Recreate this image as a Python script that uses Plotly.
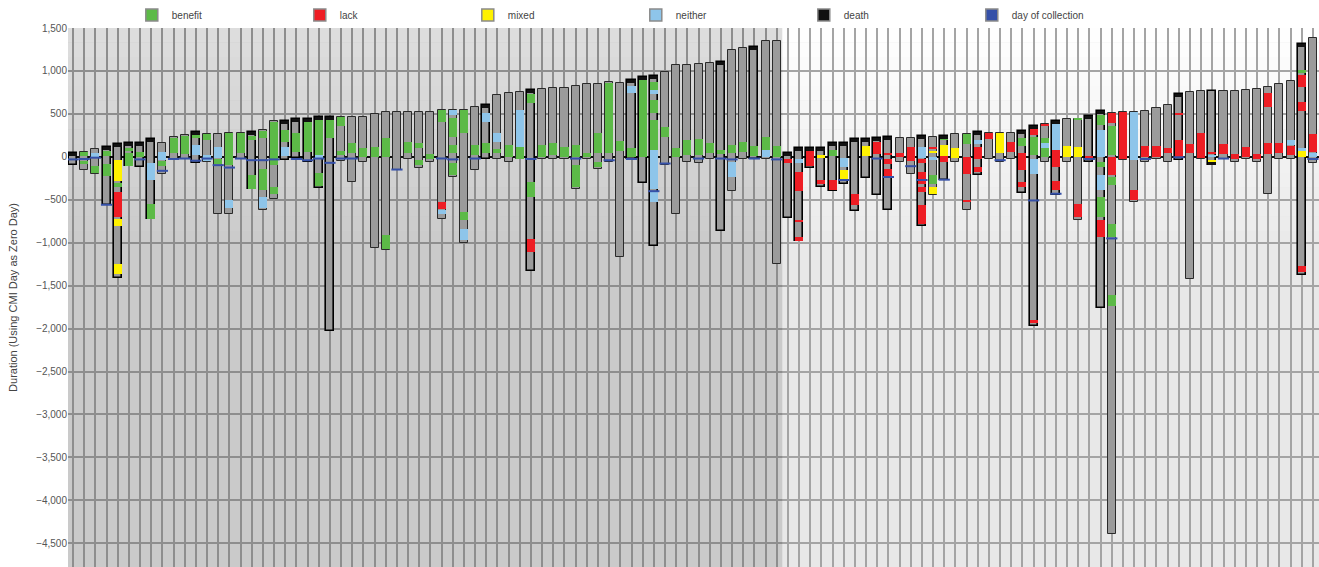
import plotly.graph_objects as go

# ---------------- data ----------------
bar_top = [47, 51, 86, 110, 150, 157, 160, 203, 160, 227, 258, 293, 266, 266, 273, 278,
           293, 312, 422, 422, 437, 441, 469, 469, 461, 461, 461, 500, 527, 527, 527, 527,
           527, 547, 547, 547, 578, 605, 723, 742, 750, 781, 793, 801, 801, 820, 851, 851,
           867, 859, 898, 930, 945, 984, 1074, 1074, 1086, 1094, 1101, 1242, 1269, 1281, 1347, 1347,
           39, 98, 105, 105, 156, 164, 203, 203, 215, 227, 215, 215, 246, 227, 246, 262,
           266, 285, 273, 273, 273, 301, 359, 383, 418, 441, 441, 480, 539, 516, 527, 527,
           539, 566, 605, 734, 750, 762, 762, 762, 769, 781, 793, 812, 848, 879, 1316, 1379]

bar_bottom = [-98, -156, -202, -565, -1415, -110, -113, -725, -202, -30, -28, -75, -59, -670, -660, -25,
              -372, -620, -487, -39, -12, -59, -360, -2027, -45, -292, -59, -1064, -1083, -156, -31, -130,
              -59, -721, -234, -1007, -156, -31, -31, -59, -31, -1333, -31, -31, -31, -371, -31, -137,
              -59, -1167, -31, -302, -1034, -100, -671, -59, -70, -31, -867, -398, -31, -31, -31, -1250,
              -715, -977, -129, -351, -398, -312, -625, -242, -449, -617, -59, -203, -801, -449, -266, -59,
              -617, -215, -31, -59, -20, -422, -1968, -59, -449, -59, -734, -59, -1762, -4386, -39, -527,
              -59, -20, -59, -39, -1423, -31, -100, -31, -59, -31, -59, -430, -20, -31, -1376, -70]

# (bar, start, end)
benefit = [(1, 12, 51), (1, -86, -50), (2, -187, -109), (3, 12, 70), (3, -226, -89), (4, -350, -300),
           (5, 70, 100), (5, -105, 40), (6, -7, 51), (7, -721, -545), (8, -103, -47), (9, 40, 225),
           (10, 31, 240), (11, 220, 250), (12, 200, 262), (13, -86, -31), (14, -97, 273), (15, 47, 278),
           (16, 195, 242), (16, -370, -214), (17, 215, 305), (17, -381, -136), (18, -97, 410),
           (18, -428, -351), (19, 176, 312), (20, 59, 273), (21, 59, 430), (22, 0, 449), (22, -343, -194),
           (23, 215, 449), (24, 359, 461), (24, 20, 70), (25, 39, 156), (26, 0, 98), (27, 0, 117),
           (28, 0, 215), (28, -1072, -916), (30, 39, 176), (31, 98, 156), (31, -97, -39), (32, -20, 31),
           (33, 410, 547), (34, 234, 449), (34, 39, 137), (34, -214, -77), (35, 273, 547), (35, -740, -643),
           (36, 20, 137), (37, 39, 156), (38, 39, 86), (39, 0, 137), (40, -20, 117), (41, 625, 734),
           (41, -468, -292), (42, 0, 137), (43, 20, 164), (44, 0, 117), (45, 0, 137), (45, -351, -98),
           (46, 0, 47), (47, 39, 273), (47, -117, -59), (48, 40, 858), (49, 70, 187), (50, 0, 98),
           (51, 0, 898), (52, 781, 867), (52, 508, 664), (52, 78, 430), (53, 234, 344), (54, 0, 98),
           (55, 20, 195), (56, 20, 203), (57, 39, 156), (58, 31, 78), (59, 39, 137), (60, 59, 176),
           (61, 8, 125), (62, 78, 227), (63, 0, 125), (68, 8, 78), (77, -312, -215), (78, 195, 234),
           (80, 148, 266), (85, 125, 215), (86, 20, 234), (87, 0, 215), (90, 430, 441), (92, 371, 488),
           (92, -117, -59), (92, -703, -469), (93, 20, 359), (93, -332, -234), (93, -937, -781),
           (93, -1734, -1606), (110, 977, 1016)]

lack = [(4, -700, -410), (33, -604, -526), (41, -1111, -954), (64, -70, -20), (65, -398, -176),
        (65, -762, -734), (65, -977, -937), (66, -109, 86), (67, -312, -273), (68, -390, -266),
        (70, -566, -430), (72, 31, 176), (73, 20, 47), (73, -78, -20), (73, -227, -137), (74, 0, 39),
        (75, -47, 117), (76, -70, -31), (76, -320, -176), (76, -410, -351), (76, -781, -566),
        (77, 86, 117), (78, -59, 8), (80, -195, 0), (80, -516, -500), (81, -20, 117), (81, -176, -117),
        (82, 203, 273), (84, 59, 176), (85, -156, 39), (85, -351, -293), (86, 254, 352),
        (86, -1930, -1902), (87, 360, 383), (88, -117, 78), (88, -390, -281), (90, -703, -555),
        (91, -10, 10), (92, -936, -734), (93, 391, 516), (93, -215, 0), (94, -31, 527), (95, -508, -383),
        (96, 0, 125), (97, 0, 125), (98, 47, 98), (99, 488, 508), (99, 0, 195), (100, 47, 148),
        (101, -8, 273), (102, 31, 59), (103, 31, 148), (104, -20, 31), (105, 0, 117), (106, -31, 31),
        (107, 578, 742), (107, 31, 156), (108, 39, 156), (109, 20, 125), (110, 812, 957),
        (110, 539, 633), (110, -1345, -1267), (111, 59, 266)]

mixed = [(4, -280, -39), (4, -810, -720), (4, -1370, -1250), (67, -12, 27), (69, -254, -148),
         (71, 8, 125), (77, 47, 70), (77, -430, -351), (78, 8, 137), (79, -8, 98), (83, 39, 273),
         (89, 0, 125), (90, 0, 117), (102, -86, -39), (110, 0, 70)]

neither = [(2, -19, 40), (7, -264, -70), (8, -39, 58), (11, 20, 137), (12, -47, 27), (13, -8, 117),
           (14, -592, -506), (17, -592, -468), (19, 8, 117), (22, -31, 20), (33, -662, -623),
           (34, 488, 547), (35, -974, -837), (37, 410, 508), (38, 176, 273), (40, 117, 547),
           (50, 742, 820), (52, 734, 781), (52, -380, 78), (52, -526, -409), (59, -234, -59),
           (62, 0, 78), (65, -70, -20), (69, -117, -12), (76, -8, 109), (77, -39, 0), (81, 148, 195),
           (86, -195, -20), (87, 98, 156), (88, 78, 391), (92, 0, 312), (92, -390, -215),
           (95, -39, 527), (102, 0, 20), (109, 137, 195), (110, 70, 100), (111, 0, 40)]

# (bar, day)
death = [(0, 47), (3, 110), (4, 150), (5, 157), (6, 160), (7, 203), (11, 293), (16, 293), (19, 422),
         (20, 437), (21, 441), (22, 469), (23, 469), (37, 605), (41, 781), (50, 898), (51, 930),
         (52, 945), (58, 1101), (61, 1281), (64, 39), (65, 98), (66, 105), (67, 105), (68, 156),
         (69, 164), (70, 203), (71, 203), (72, 215), (73, 227), (76, 246), (78, 246), (81, 285),
         (85, 301), (86, 359), (88, 418), (91, 480), (92, 539), (99, 734), (102, -65), (110, 1316)]

collection = [(0, -30), (1, -25), (2, -10), (3, -558), (6, -30), (8, -163), (9, -25), (10, -20),
              (11, -45), (12, -20), (13, -97), (14, -125), (15, -20), (16, -39), (17, -39), (18, -30),
              (20, -25), (21, -40), (22, -20), (23, -70), (24, -20), (25, -20), (29, -148), (33, -19),
              (34, -30), (36, -20), (41, -25), (45, -20), (48, -40), (50, -25), (52, -400), (53, -78),
              (56, -20), (58, -20), (59, -30), (61, -20), (63, -30), (69, -270), (72, -20), (73, -235),
              (75, -109), (76, -270), (78, -266), (83, -39), (86, -508), (88, -430), (91, -25),
              (93, -950), (96, -25), (99, -5), (103, -20), (111, -25)]

legend_labels = ["benefit", "lack", "mixed", "neither", "death", "day of collection"]
y_ticks = list(range(-4500, 1501, 500))
n_left = 64  # patients in the shaded (left) group

# ---------------- styles ----------------
C_GREEN = "#5cba47"
C_RED = "#ee1d24"
C_YELLOW = "#fff200"
C_LBLUE = "#8ec5ea"
C_BLACK = "#111111"
C_BLUE = "#3550a8"
C_GRAY = "#9b9b9b"
BW = 0.72
FONT = "Liberation Sans"

fig = go.Figure()

n = len(bar_top)
xs = list(range(n))
death_set = {b for b, _ in death}

# gray range bars
for is_death in (False, True):
    idx = [i for i in xs if (i in death_set) == is_death]
    fig.add_trace(go.Bar(
        x=idx, base=[bar_bottom[i] for i in idx],
        y=[bar_top[i] - bar_bottom[i] for i in idx],
        width=BW, showlegend=False, hoverinfo="skip",
        marker=dict(color=C_GRAY, line=dict(color="#000" if is_death else "#2a2a2a",
                                            width=1.6 if is_death else 1.0))))


def seg_trace(segs, color):
    return go.Bar(x=[s[0] for s in segs], base=[s[1] for s in segs],
                  y=[s[2] - s[1] for s in segs], width=BW, showlegend=False,
                  hoverinfo="skip", marker=dict(color=color, line=dict(width=0)))


for segs, col in ((benefit, C_GREEN), (lack, C_RED), (mixed, C_YELLOW), (neither, C_LBLUE)):
    fig.add_trace(seg_trace(segs, col))

# death caps
cap = 35
fig.add_trace(go.Bar(x=[d[0] for d in death], base=[d[1] - cap for d in death],
                     y=[cap] * len(death), width=BW, showlegend=False, hoverinfo="skip",
                     marker=dict(color=C_BLACK, line=dict(width=0))))

# day of collection markers
fig.add_trace(go.Scatter(x=[c[0] for c in collection], y=[c[1] for c in collection],
                         mode="markers", showlegend=False, hoverinfo="skip",
                         marker=dict(symbol="line-ew", size=8, line=dict(color=C_BLUE, width=2))))

# legend-only entries
for lab, col in zip(legend_labels, (C_GREEN, C_RED, C_YELLOW, C_LBLUE, C_BLACK, C_BLUE)):
    fig.add_trace(go.Bar(x=[None], y=[None], name=lab, showlegend=True,
                         marker=dict(color=col, line=dict(color="#8a8a8a", width=1.5))))

# background: vertical gradient bands + darker left group overlay
y_lo, y_hi = -4776, 1500
bands = 16
g_top, g_bot = 255, 232
g_end = -1200
step = (y_hi - g_end) / bands
shapes = []
for k in range(bands):
    v = round(g_top + (g_bot - g_top) * (k + 0.5) / bands)
    shapes.append(dict(type="rect", xref="x", yref="y", layer="below",
                       x0=-0.45, x1=n - 0.45, y0=y_hi - (k + 1) * step, y1=y_hi - k * step,
                       fillcolor=f"rgb({v},{v},{v})", line=dict(width=0)))
shapes.append(dict(type="rect", xref="x", yref="y", layer="between",
                   x0=-0.45, x1=n_left - 0.5, y0=y_lo, y1=y_hi,
                   fillcolor="rgba(0,0,0,0.13)", line=dict(width=0)))

fig.update_layout(
    width=1319, height=567, autosize=False,
    margin=dict(l=68, r=0, t=28, b=0, autoexpand=False),
    paper_bgcolor="white", plot_bgcolor="#e8e8e8",
    barmode="overlay", bargap=0,
    shapes=shapes,
    font=dict(family=FONT, color="#444"),
    legend=dict(orientation="h", x=0.051, xanchor="left", y=1.024, yanchor="middle",
                entrywidth=123, entrywidthmode="pixels", font=dict(size=10, color="#444"),
                bgcolor="rgba(0,0,0,0)", itemclick=False),
    xaxis=dict(range=[-0.45, n - 0.45], tickmode="linear", tick0=0, dtick=1,
               showticklabels=False, showgrid=True, gridcolor="#a4a4a4", gridwidth=1.5,
               zeroline=False, showline=True, linecolor="#a4a4a4", linewidth=1.5, ticks="",
               automargin=False),
    yaxis=dict(range=[y_lo, y_hi], tickmode="array", tickvals=y_ticks, tickformat=",",
               showgrid=True, gridcolor="#a4a4a4", gridwidth=1.5,
               zeroline=True, zerolinecolor="#111", zerolinewidth=2,
               tickfont=dict(size=10, color="#555"), ticks="", automargin=False,
               title=dict(text="Duration (Using CMI Day as Zero Day)",
                          font=dict(size=11, color="#444"), standoff=16)),
)

fig.write_html("out.html", config={"displayModeBar": False},
               post_script="document.body.style.margin='0';document.body.style.overflow='hidden';")
